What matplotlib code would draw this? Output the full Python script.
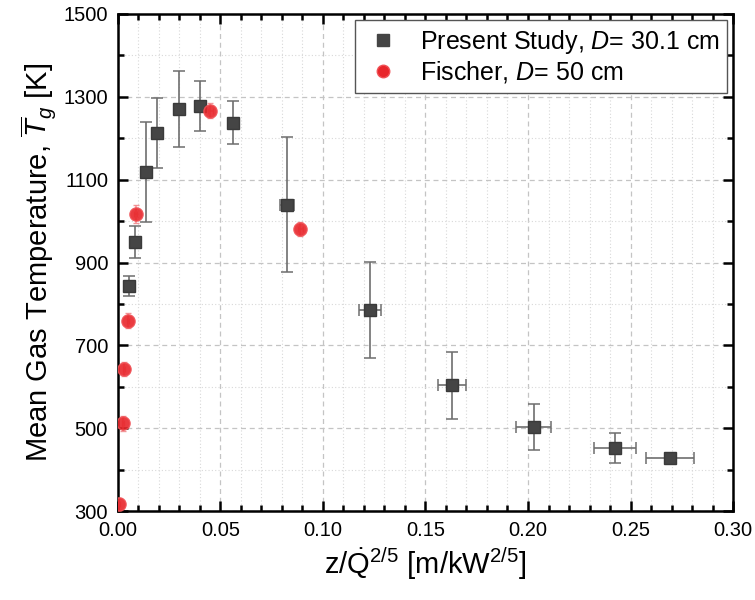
import numpy as np
import matplotlib
matplotlib.use("Agg")
import matplotlib.pyplot as plt
from matplotlib.ticker import MultipleLocator, FormatStrFormatter
from matplotlib.lines import Line2D

# Present study, D = 30.1 cm
ps_x = [0.0054, 0.0083, 0.0136, 0.0190, 0.0297, 0.0403, 0.0564, 0.0827, 0.1230, 0.1630, 0.2027, 0.2426, 0.2693]
ps_T = [843, 950, 1119, 1213, 1271, 1278, 1237, 1039, 786, 604, 503, 452, 428]
ps_xerr = [0.0004, 0.0005, 0.0007, 0.0009, 0.0013, 0.0010, 0.0024, 0.0034, 0.0052, 0.0070, 0.0087, 0.0102, 0.0118]
ps_Terr = [25, 39, 121, 85, 92, 60, 52, 163, 116, 81, 56, 36, 8]

# Fischer, D = 50 cm
fi_x = [0.0008, 0.0025, 0.0030, 0.0049, 0.0087, 0.0452, 0.0890]
fi_T = [318, 512, 643, 759, 1017, 1266, 981]
fi_xerr = [0.0005, 0.0005, 0.0005, 0.0006, 0.0008, 0.0010, 0.0012]
fi_Terr = [15, 18, 18, 18, 22, 18, 16]

plt.rcParams['font.family'] = ['Liberation Sans', 'DejaVu Sans']
plt.rcParams['mathtext.fontset'] = 'custom'
plt.rcParams['mathtext.rm'] = 'Liberation Sans'
plt.rcParams['mathtext.it'] = 'Liberation Sans:italic'
plt.rcParams['mathtext.bf'] = 'Liberation Sans:bold'

sq_col = '#454545'
red_col = '#e8262b'

fig = plt.figure(figsize=(7.55, 6.0), dpi=100)
ax = fig.add_axes([0.156, 0.148, 0.815, 0.829])

ax.errorbar(ps_x, ps_T, xerr=ps_xerr, yerr=ps_Terr, fmt='s', ms=8,
            color=sq_col, mec='#3a3a3a', ecolor='#6e6e6e', elinewidth=1.2,
            capsize=4, capthick=1.1, zorder=3)
ax.errorbar(fi_x, fi_T, xerr=fi_xerr, yerr=fi_Terr, fmt='o', ms=9.5,
            color=red_col, mec='#f05055', ecolor='#f08a8d', elinewidth=1.1,
            capsize=2.5, capthick=1.0, alpha=0.9, zorder=4)

ax.set_xlim(0.0, 0.30)
ax.set_ylim(300, 1500)
ax.xaxis.set_major_locator(MultipleLocator(0.05))
ax.xaxis.set_minor_locator(MultipleLocator(0.01))
ax.yaxis.set_major_locator(MultipleLocator(200, offset=100))
ax.yaxis.set_minor_locator(MultipleLocator(100))
ax.xaxis.set_major_formatter(FormatStrFormatter('%.2f'))

ax.grid(which='major', linestyle=(0, (4, 3)), color='#c4c4c4', linewidth=0.9)
ax.grid(which='minor', linestyle=(0, (1, 2)), color='#d8d8d8', linewidth=0.8)
ax.set_axisbelow(True)

ax.tick_params(which='both', direction='in', top=True, right=True, width=1.8)
ax.tick_params(which='major', length=7, labelsize=14.5, pad=7)
ax.tick_params(which='minor', length=4)
for s in ax.spines.values():
    s.set_linewidth(1.8)

ax.set_xlabel(r'z/$\dot{\mathrm{Q}}^{2/5}$ [m/kW$^{2/5}$]', fontsize=21, labelpad=4)
ax.set_ylabel(r'Mean Gas Temperature, $\overline{T}_g$ [K]', fontsize=21, labelpad=4)

handles = [
    Line2D([], [], ls='none', marker='s', ms=8, color=sq_col),
    Line2D([], [], ls='none', marker='o', ms=9, color=red_col, mec='#f05055'),
]
labels = [r'Present Study, $D$= 30.1 cm', r'Fischer, $D$= 50 cm']
leg = ax.legend(handles, labels, loc='upper right', fontsize=18, frameon=True, fancybox=False,
                borderaxespad=0.25, handletextpad=0.6, handlelength=1.7,
                borderpad=0.3, labelspacing=0.15, framealpha=1.0)
leg.get_frame().set_edgecolor('#555555')
leg.get_frame().set_linewidth(1.0)

fig.savefig('out.png', dpi=100)
